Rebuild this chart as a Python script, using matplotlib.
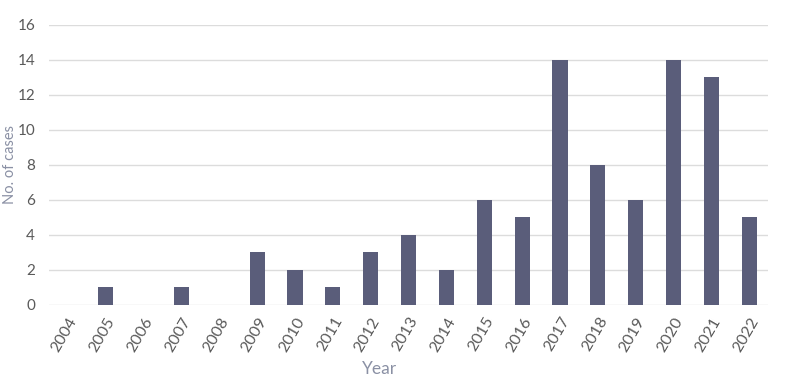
"""Bar chart of cases per year."""
import matplotlib
matplotlib.use("Agg")
import matplotlib.pyplot as plt

years = [str(y) for y in range(2004, 2023)]
cases = [0, 1, 0, 1, 0, 3, 2, 1, 3, 4, 2, 6, 5, 14, 8, 6, 14, 13, 5]

plt.rcParams["font.family"] = ["Lato", "DejaVu Sans"]

fig = plt.figure(figsize=(8.07, 3.82), dpi=100)
ax = fig.add_axes([0.0607, 0.2016, 0.8913, 0.733])

ax.bar(range(len(years)), cases, width=0.4, color="#5a5d7a", zorder=3)

ax.set_xlim(-0.5, len(years) - 0.5)
ax.set_ylim(0, 16)
ax.set_yticks(range(0, 17, 2))
ax.set_xticks(range(len(years)))
ax.set_xticklabels(years, rotation=60, ha="right", rotation_mode="anchor")

ax.grid(axis="y", color="#dcdcdc", linewidth=1, zorder=0)
for s in ax.spines.values():
    s.set_visible(False)
ax.tick_params(axis="both", length=0, labelsize=11.5, colors="#5a5a5a")
ax.tick_params(axis="y", pad=10, labelsize=11)
ax.tick_params(axis="x", pad=7)

ax.set_xlabel("Year", fontsize=12.5, color="#8a90a4")
ax.set_ylabel("No. of cases", fontsize=10.5, color="#8a90a4")
ax.xaxis.set_label_coords(0.46, -0.2)
ax.yaxis.set_label_coords(-0.045, 0.5)

fig.savefig("out.png", dpi=100)
